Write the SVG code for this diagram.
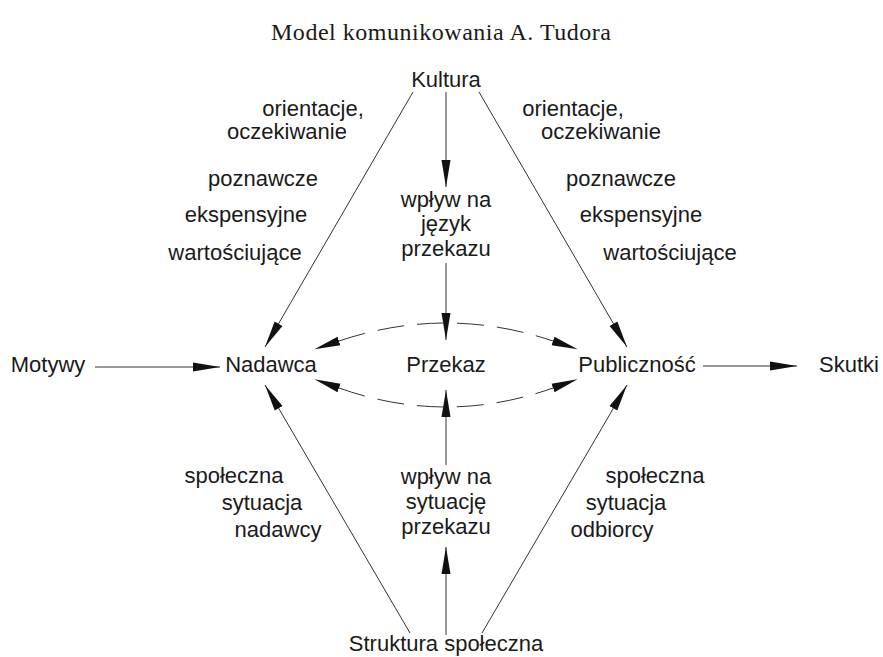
<svg xmlns="http://www.w3.org/2000/svg" width="883" height="657" viewBox="0 0 883 657">
<style>
.t{font-family:"Liberation Sans",Arial,sans-serif;font-size:22px;fill:#1a1a1a;text-anchor:middle}
.title{font-family:"Liberation Serif","Times New Roman",serif;font-size:24px;fill:#1a1a1a;text-anchor:middle}
.ln{stroke:#333;stroke-width:1;fill:none}
.dash{stroke:#333;stroke-width:1;fill:none;stroke-dasharray:27 13}
</style>
<defs>
<marker id="ah" markerUnits="userSpaceOnUse" markerWidth="28" markerHeight="10" viewBox="0 0 28 10" refX="27" refY="5" orient="auto">
<path d="M0,0.5 L27,5 L0,9.5 Z" fill="#111"/>
</marker>
<marker id="ahb" markerUnits="userSpaceOnUse" markerWidth="28" markerHeight="10" viewBox="0 0 28 10" refX="0" refY="5" orient="auto-start-reverse">
<path d="M0,0.5 L26,5 L0,9.5 Z" fill="#111"/>
</marker>
</defs>
<text class="title" x="441" y="40" textLength="340">Model komunikowania A. Tudora</text>
<g id="connectors">
<line class="ln" x1="413" y1="92" x2="265" y2="347" marker-end="url(#ah)"/>
<line class="ln" x1="479" y1="92" x2="627" y2="347" marker-end="url(#ah)"/>
<line class="ln" x1="410" y1="633" x2="265" y2="385" marker-end="url(#ah)"/>
<line class="ln" x1="482" y1="633" x2="627" y2="385" marker-end="url(#ah)"/>
<line class="ln" x1="446" y1="92" x2="446" y2="187" marker-end="url(#ah)"/>
<line class="ln" x1="446" y1="263" x2="446" y2="340" marker-end="url(#ah)"/>
<line class="ln" x1="446" y1="465" x2="446" y2="390" marker-end="url(#ah)"/>
<line class="ln" x1="446" y1="635" x2="446" y2="547" marker-end="url(#ah)"/>
<line class="ln" x1="95" y1="367" x2="220" y2="367" marker-end="url(#ah)"/>
<line class="ln" x1="703" y1="366" x2="797" y2="366" marker-end="url(#ah)"/>
<path class="dash" d="M339,341 Q446,305 553,341" marker-start="url(#ahb)" marker-end="url(#ahb)"/>
<path class="dash" d="M339,388 Q446,426 553,388" marker-start="url(#ahb)" marker-end="url(#ahb)"/>
</g>
<g id="kultura"><text class="t" x="446" y="87">Kultura</text></g>
<g id="motywy"><text class="t" x="48" y="372">Motywy</text></g>
<g id="nadawca"><text class="t" x="271" y="372">Nadawca</text></g>
<g id="przekaz"><text class="t" x="446" y="372">Przekaz</text></g>
<g id="publicznosc"><text class="t" x="637" y="372">Publiczność</text></g>
<g id="skutki"><text class="t" x="849" y="372">Skutki</text></g>
<g id="struktura"><text class="t" x="446" y="651">Struktura społeczna</text></g>
<g id="labels-left-top">
<text class="t" x="313" y="116">orientacje,</text>
<text class="t" x="287" y="139">oczekiwanie</text>
<text class="t" x="263" y="186">poznawcze</text>
<text class="t" x="246" y="222">ekspensyjne</text>
<text class="t" x="235" y="260">wartościujące</text>
</g>
<g id="labels-right-top">
<text class="t" x="573" y="116">orientacje,</text>
<text class="t" x="601" y="139">oczekiwanie</text>
<text class="t" x="621" y="186">poznawcze</text>
<text class="t" x="641" y="222">ekspensyjne</text>
<text class="t" x="670" y="260">wartościujące</text>
</g>
<g id="labels-center-top">
<text class="t" x="446" y="207">wpływ na</text>
<text class="t" x="446" y="231">język</text>
<text class="t" x="446" y="256">przekazu</text>
</g>
<g id="labels-center-bottom">
<text class="t" x="446" y="484">wpływ na</text>
<text class="t" x="446" y="509">sytuację</text>
<text class="t" x="446" y="534">przekazu</text>
</g>
<g id="labels-left-bottom">
<text class="t" x="234" y="483">społeczna</text>
<text class="t" x="262" y="510">sytuacja</text>
<text class="t" x="278" y="537">nadawcy</text>
</g>
<g id="labels-right-bottom">
<text class="t" x="655" y="483">społeczna</text>
<text class="t" x="626" y="510">sytuacja</text>
<text class="t" x="612" y="537">odbiorcy</text>
</g>
</svg>
